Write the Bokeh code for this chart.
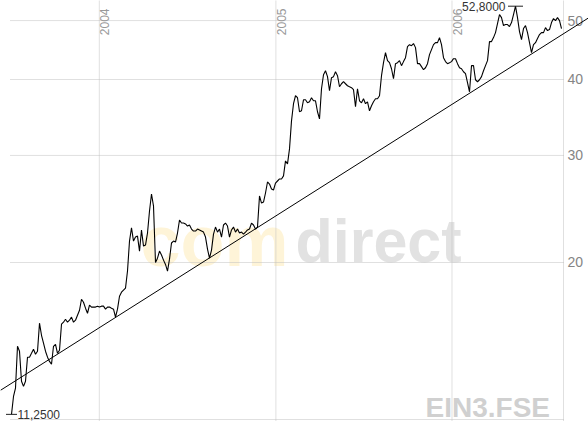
import numpy as np
import pandas as pd
from bokeh.plotting import figure
from bokeh.models import Range1d
from bokeh.core.properties import value
from bokeh.embed import file_html
from bokeh.resources import INLINE

# ---------------- data ----------------
START = "2003-07-03"
END = "2006-08-16"
prices = [
    11.25, 12.04, 12.43, 14.56, 14.29, 12.75, 12.51, 12.75, 13.97, 13.97,
    14.18, 14.40, 14.13, 14.29, 15.89, 15.18, 14.73, 14.29, 13.97, 13.75,
    13.60, 14.56, 14.67, 14.18, 14.34, 15.83, 15.95, 16.13, 15.95, 16.07,
    16.26, 15.95, 16.07, 16.38, 16.69, 17.40, 17.20, 16.82, 16.50, 17.01,
    16.89, 16.89, 16.89, 16.95, 16.89, 16.95, 16.95, 16.76, 16.89, 16.89,
    16.82, 16.76, 16.26, 16.76, 17.60, 17.87, 18.01, 18.15, 19.36, 21.69,
    22.81, 21.69, 22.02, 22.10, 20.88, 22.62, 21.28, 21.36, 22.36, 24.30,
    25.92, 24.77, 20.00, 20.33, 20.88, 20.57, 20.18, 19.85, 19.36, 20.25,
    21.53, 21.69, 21.61, 22.36, 23.49, 23.22, 23.22, 23.14, 22.96, 23.05,
    22.70, 22.53, 22.53, 22.70, 22.62, 22.53, 22.44, 22.02, 21.04, 20.33,
    20.96, 22.27, 22.87, 22.44, 22.70, 22.02, 23.05, 23.22, 22.96, 22.02,
    22.62, 22.87, 22.44, 22.70, 22.36, 22.44, 22.27, 22.44, 22.62, 22.70,
    23.22, 23.05, 22.70, 22.87, 25.73, 25.05, 25.14, 26.02, 27.13, 26.92,
    26.42, 26.32, 27.02, 27.23, 27.44, 27.44, 27.76, 29.38, 29.05, 30.75,
    34.20, 36.49, 37.61, 37.33, 35.40, 35.53, 37.04, 37.04, 36.62, 36.76,
    37.33, 36.90, 36.90, 35.40, 34.46, 38.62, 40.73, 41.35, 40.43, 38.33,
    40.27, 40.43, 41.19, 40.58, 38.91, 39.36, 39.66, 39.36, 39.06, 38.91,
    38.77, 38.48, 36.07, 38.62, 36.90, 36.62, 37.18, 36.49, 36.76, 35.53,
    36.21, 36.76, 37.18, 37.18, 37.61, 40.58, 42.63, 44.28, 42.96, 42.63,
    41.66, 40.11, 42.47, 42.63, 42.96, 42.15, 42.80, 43.45, 45.30, 45.64,
    45.47, 45.82, 45.13, 42.47, 42.47, 41.99, 41.51, 41.82, 42.47, 43.95,
    44.79, 45.64, 45.99, 45.99, 46.88, 45.64, 43.45, 42.80, 42.47, 42.63,
    42.80, 43.28, 43.28, 42.47, 41.82, 41.66, 41.19, 40.89, 39.51, 38.18,
    42.15, 42.15, 39.96, 39.66, 39.96, 40.43, 41.35, 42.15, 42.96, 46.17,
    46.17, 46.88, 47.77, 49.43, 51.16, 50.57, 49.06, 49.25, 49.25, 48.87,
    49.62, 51.16, 52.80, 50.57, 47.96, 46.53, 48.51, 49.06, 47.77, 45.99,
    44.28, 45.64, 45.99, 46.70, 47.41, 47.77, 47.77, 48.69, 48.14, 48.32,
    49.62, 50.38, 50.00, 50.57, 50.00, 48.51,
]
year_dates = ["2004-01-01", "2005-01-01", "2006-01-01"]
year_labels = ["2004", "2005", "2006"]
price_ticks = [20, 30, 40, 50]
price_tick_labels = ["20", "30", "40", "50"]
trend_dates = ["2004-02-02", "2006-06-15"]
trend_prices = [16.21, 44.06]
symbol = "EIN3.FSE"
watermark = ["com", "direct"]

# ---------------- layout helpers ----------------
W, H = 588, 421
dates = pd.date_range(START, END, periods=len(prices))
PX = (pd.Timestamp(END) - pd.Timestamp(START)) / ((len(prices) - 1) * 2)  # time per pixel
X0 = pd.Timestamp(START) - 11 * PX
X1 = X0 + W * PX
Y_TOP, Y_BOT = 53.95, 10.95


def xpx(px):  # pixel -> date
    return X0 + px * PX


def ypx(py):  # pixel -> price (log scale)
    return float(np.exp(np.log(Y_TOP) - py / H * np.log(Y_TOP / Y_BOT)))


p = figure(width=W, height=H, x_range=Range1d(X0, X1), y_range=Range1d(Y_BOT, Y_TOP),
           x_axis_type="datetime", y_axis_type="log",
           x_axis_location=None, y_axis_location=None,
           output_backend="svg", toolbar_location=None, min_border=0)
p.outline_line_color = None
p.xgrid.visible = False
p.ygrid.visible = False
p.background_fill_color = "white"
p.border_fill_color = "white"

FONT = value("Liberation Sans")

# watermark
p.text(x=[xpx(140)], y=[ypx(240)], text=[watermark[0]], text_font=FONT, text_font_style="bold",
       text_font_size=value("72px"), text_color="#FEF4D8", text_baseline="alphabetic")
p.text(x=[xpx(295)], y=[ypx(240)], text=[watermark[1]], text_font=FONT,
       text_font_style="bold", text_font_size=value("61px"), text_color="#E2E2E2",
       text_baseline="alphabetic")
p.text(x=[xpx(425)], y=[ypx(407)], text=[symbol], text_font=FONT, text_font_style="bold",
       text_font_size=value("28px"), text_color="#D0D0D0", text_baseline="alphabetic")

GRID = dict(line_color="#c0c0c0", line_dash="1 1", line_width=1)
# horizontal grid
p.segment(x0=[xpx(10)] * len(price_ticks), y0=price_ticks,
          x1=[xpx(563)] * len(price_ticks), y1=price_ticks, **GRID)
# vertical year lines
yd = pd.to_datetime(year_dates)
p.segment(x0=yd, y0=[Y_BOT] * len(yd), x1=yd, y1=[Y_TOP] * len(yd), **GRID)
# right and bottom frame
p.segment(x0=[xpx(563)], y0=[Y_BOT], x1=[xpx(563)], y1=[Y_TOP], **GRID)
p.segment(x0=[xpx(10)], y0=[ypx(419)], x1=[xpx(563)], y1=[ypx(419)], **GRID)

# year labels (vertical, reading upwards, top end 8px below the plot top)
p.text(x=yd, y=[ypx(8)] * len(yd), text=year_labels, angle=np.pi / 2,
       text_align="right", text_baseline="top", x_offset=1,
       text_font=FONT, text_font_size=value("12px"), text_color="#999999")

# price labels on the right
p.text(x=[xpx(567)] * len(price_ticks), y=price_ticks, text=price_tick_labels,
       text_align="left", text_baseline="middle",
       text_font=FONT, text_font_size=value("14px"), text_color="#858585")

# trend line (straight in log space), extended to the plot edges
td = pd.to_datetime(trend_dates)
lp = np.log(trend_prices)
slope = (lp[1] - lp[0]) / (td[1] - td[0]).total_seconds()
ends = [X0, X1]
end_prices = [float(np.exp(lp[0] + slope * (e - td[0]).total_seconds())) for e in ends]
p.line(x=ends, y=end_prices, line_color="black", line_width=1)

# price line
p.line(x=dates, y=prices, line_color="black", line_width=1.1)

# min / max markers
imin, imax = int(np.argmin(prices)), int(np.argmax(prices))
fmt = lambda v: f"{v:.4f}".replace(".", ",")
p.scatter(x=[dates[imin]], y=[prices[imin]], marker="dash", size=11, line_color="#222222")
p.scatter(x=[dates[imax]], y=[prices[imax]], marker="dash", size=15, line_color="#222222")
p.text(x=[dates[imin]], y=[prices[imin]], text=[fmt(prices[imin])], x_offset=6,
       text_align="left", text_baseline="middle", text_font=FONT,
       text_font_size=value("12px"), text_color="#333333")
p.text(x=[dates[imax]], y=[prices[imax]], text=[fmt(prices[imax])], x_offset=-10,
       text_align="right", text_baseline="middle", text_font=FONT,
       text_font_size=value("12px"), text_color="#333333")

open("out.html", "w").write(file_html(p, INLINE))
